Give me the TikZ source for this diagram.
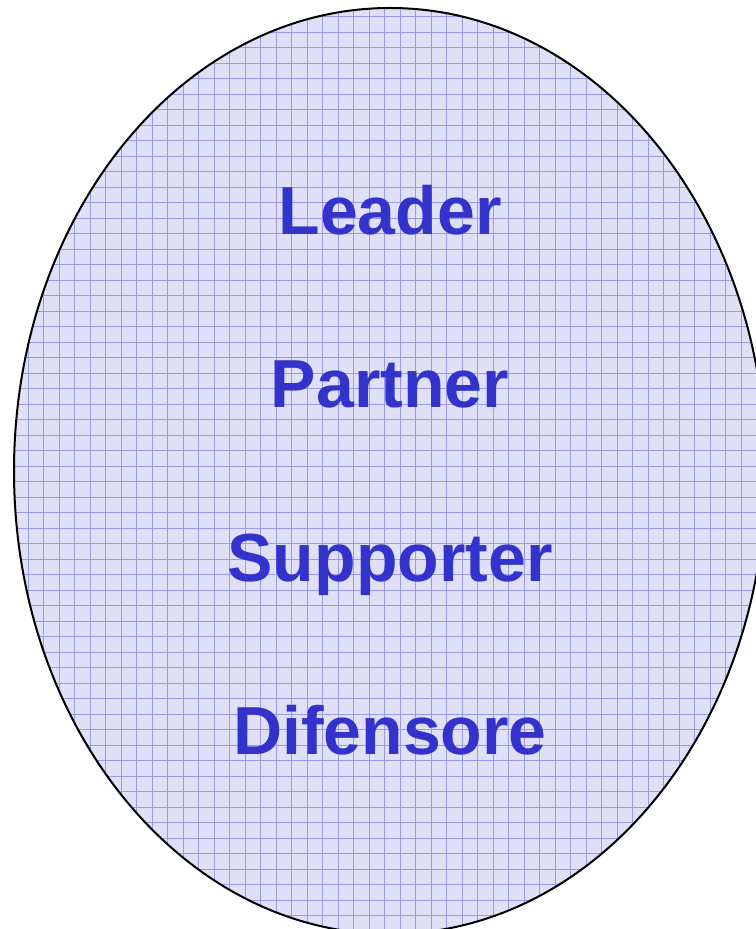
\documentclass[tikz,border=0pt]{standalone}
\usepackage{fontspec}
\newfontfamily\rolefont{Liberation Sans}
\definecolor{rolefill}{RGB}{224,224,248}
\definecolor{rolegrid}{RGB}{110,110,225}
\definecolor{roletext}{RGB}{51,51,204}
\tikzset{role/.style={anchor=base, text=roletext, font=\rolefont\bfseries\fontsize{68}{80}\selectfont}}

\begin{document}
\begin{tikzpicture}[x=1pt,y=1pt]
            \useasboundingbox (0,0) rectangle (755,929);
            % ellipse with grid paper
            \begin{scope}
                \clip (390,458) ellipse [x radius=376, y radius=463];
                \fill[rolefill] (0,0) rectangle (780,940);
                \begin{scope}[shift={(12.5,13.5)}]
                    \draw[line width=0.3pt, rolegrid!22] (-20,-20) grid[step=3.1pt] ++ (800,960);
                    \draw[line width=0.7pt, rolegrid!70] (-20,-20) grid[step=15.5pt] ++ (800,960);
                \end{scope}
            \end{scope}
            \draw[line width=2pt] (390,458) ellipse [x radius=376, y radius=463];
            % roles
            \node[role] (leader)    at (390,694) {Leader};
            \node[role] (partner)   at (390,521) {Partner};
            \node[role] (supporter) at (390,347) {Supporter};
            \node[role] (difensore) at (390,174) {Difensore};
        \end{tikzpicture}
\end{document}
